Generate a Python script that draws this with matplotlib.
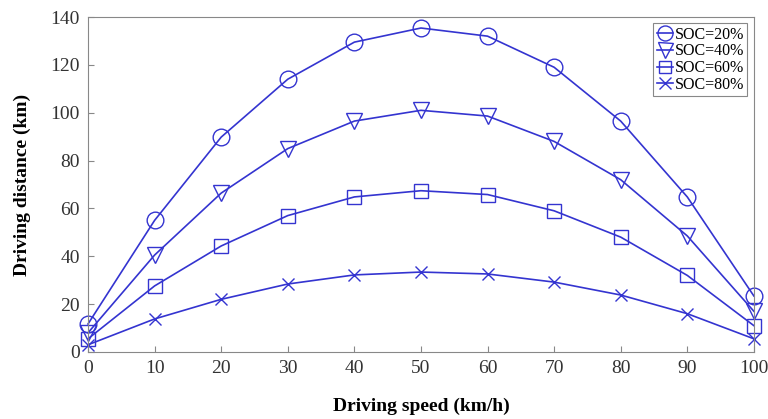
import matplotlib
matplotlib.use("Agg")
from matplotlib import pyplot as plt
import numpy as np

speed = [0, 10, 20, 30, 40, 50, 60, 70, 80, 90, 100]
soc20 = [11.7, 55, 89.8, 114, 129.5, 135.4, 132, 119, 96.5, 64.8, 23.4]
soc40 = [8, 40.5, 66.4, 85, 96.5, 101, 98.6, 88, 72, 48.5, 17]
soc60 = [5.5, 27.6, 44.3, 57, 64.8, 67.4, 65.8, 59, 48, 32, 11]
soc80 = [3, 13.8, 22, 28.4, 32.2, 33.4, 32.6, 29.2, 23.8, 16, 5.5]
labels = ['SOC=20%', 'SOC=40%', 'SOC=60%', 'SOC=80%']

plt.rcParams['font.family'] = ['Liberation Serif', 'DejaVu Serif']
color = '#3434d0'

fig = plt.figure(figsize=(7.68, 4.19), dpi=100)
ax = fig.add_axes([0.1146, 0.16, 0.867, 0.7994])

markers = ['o', 'v', 's', 'x']
sizes = [12, 12, 9.5, 9]
for ys, m, s, lab in zip([soc20, soc40, soc60, soc80], markers, sizes, labels):
    ax.plot(speed, ys, color=color, marker=m, markersize=s, markerfacecolor='none',
            markeredgecolor=color, markeredgewidth=1.0, linewidth=1.2, label=lab, clip_on=False)

ax.set_xlim(0, 100)
ax.set_ylim(0, 140)
ax.set_xticks(np.arange(0, 101, 10))
ax.set_yticks(np.arange(0, 141, 20))
ax.tick_params(direction='in', labelsize=14, length=4, color='#888888', labelcolor='#333333')
ax.tick_params(axis='y', pad=6)
ax.tick_params(axis='x', pad=6)
for sp in ax.spines.values():
    sp.set_color('#888888')
    sp.set_linewidth(0.8)

ax.set_xlabel('Driving speed (km/h)', fontsize=14, fontweight='bold', labelpad=15)
ax.set_ylabel('Driving distance (km)', fontsize=14, fontweight='bold', labelpad=14)

leg = ax.legend(loc='upper right', fontsize=11.5, handlelength=1.0, handletextpad=0.15,
                borderpad=0.2, labelspacing=0.05, fancybox=False, framealpha=1,
                borderaxespad=0.4, markerscale=0.9)
leg.get_frame().set_edgecolor('#888888')
leg.get_frame().set_linewidth(0.8)

fig.savefig('out.png', dpi=100)
